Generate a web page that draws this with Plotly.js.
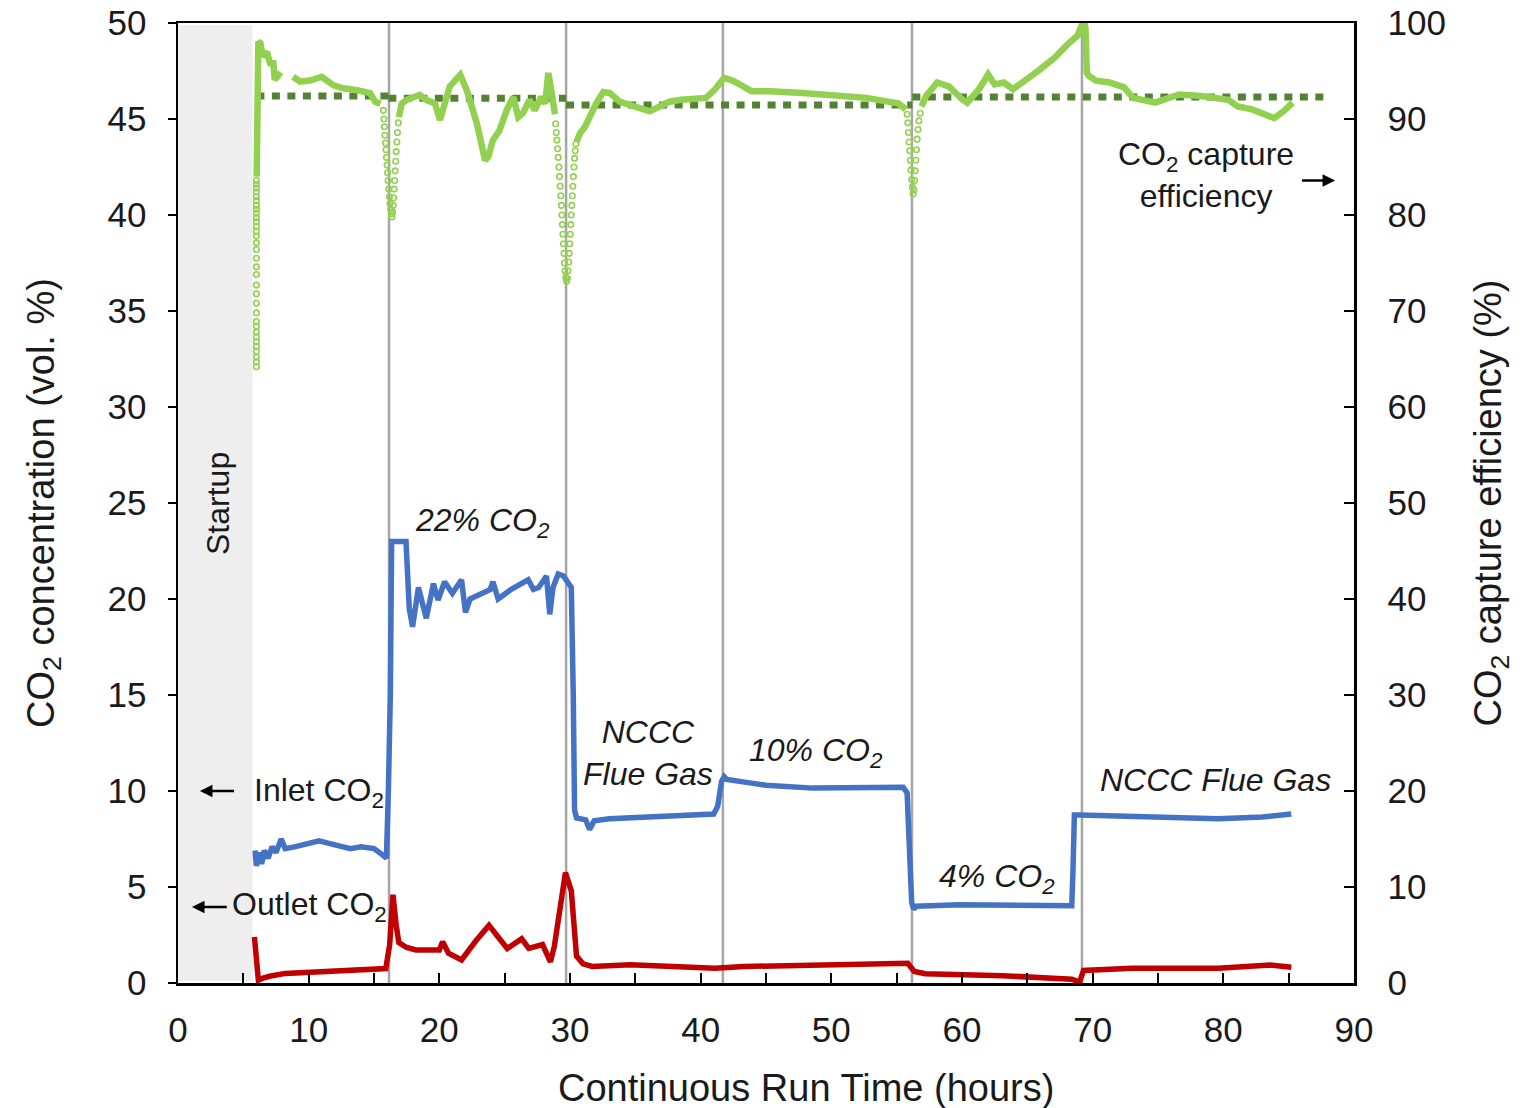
<!DOCTYPE html>
<html>
<head>
<meta charset="utf-8">
<script src="https://cdn.plot.ly/plotly-3.0.1.min.js"></script>
<style>html,body{margin:0;padding:0;background:#fff;}#chart{width:1532px;height:1108px;}</style>
</head>
<body>
<div id="chart"></div>
<script>
// ---------- DATA ----------
const inletHours = [5.9,6.0,6.2,6.4,6.6,6.9,7.2,7.5,7.9,8.2,9.0,10.0,10.8,11.7,12.5,13.2,14.0,15.0,15.6,15.95,16.1,16.25,16.35,17.45,17.7,17.95,18.4,19.0,19.55,19.9,20.4,21.0,21.7,22.0,22.35,23.0,23.9,24.1,24.5,25.5,26.8,27.2,27.6,28.2,28.45,28.7,29.1,29.5,30.1,30.25,30.35,30.5,31.2,31.5,31.85,33,35,38,41.0,41.3,41.6,41.8,42.0,43.5,45,48.6,53.2,55.5,55.8,56.0,56.15,56.3,56.5,59.8,64,68.4,68.5,68.6,69.05,73,76,79.6,83,85.2];
const inletCO2 = [6.9,6.1,6.8,6.2,6.9,6.5,7.1,6.8,7.5,7.0,7.1,7.3,7.4,7.25,7.1,7.0,7.1,7.0,6.7,6.5,10,15,23.0,23.0,19.5,18.55,20.6,19.0,20.8,19.95,20.9,20.3,21.0,19.3,20.0,20.2,20.5,20.9,20.0,20.5,21.0,20.5,20.6,21.2,19.2,20.6,21.3,21.2,20.6,15,9.0,8.6,8.5,8.0,8.45,8.55,8.6,8.7,8.8,9.2,10.5,10.75,10.6,10.45,10.3,10.15,10.2,10.2,9.9,7,4.2,3.85,4.0,4.08,4.05,4.02,6,8.75,8.75,8.65,8.6,8.55,8.65,8.8];

const outletHours = [5.85,6.0,6.15,6.5,7.0,8.2,11.2,15.3,15.9,16.2,16.45,16.7,16.9,17.5,18.2,20.0,20.25,20.7,21.7,22.8,23.8,24.5,25.2,26.3,26.85,27.9,28.5,28.8,29.3,29.65,30.1,30.5,31.0,31.7,34.6,38,41.1,43.3,46.6,53.2,55.85,56.35,57.2,63.1,68.4,69.0,69.3,73,79.6,83.6,85.2];
const outletCO2 = [2.4,1.0,0.15,0.25,0.35,0.5,0.6,0.68,0.75,2.0,4.6,3.0,2.1,1.85,1.72,1.72,2.15,1.55,1.2,2.2,3.0,2.4,1.8,2.3,1.8,2.0,1.1,1.9,4.0,5.75,4.8,1.4,1.0,0.86,0.95,0.85,0.77,0.86,0.91,0.98,1.03,0.6,0.48,0.38,0.2,0.05,0.65,0.77,0.77,0.94,0.82];

// capture efficiency, steady parts (null = break)
const effHours = [6.02,6.08,6.12,6.15,6.3,6.4,6.5,6.8,7.05,7.3,7.4,7.7,7.9,null,
  8.8,9.35,10.1,11.0,11.9,12.65,13.7,14.7,15.1,15.5,null,
  16.9,17.12,17.5,18.0,18.5,19.0,19.67,20.05,20.36,20.8,21.6,22.1,22.86,23.5,23.75,24.1,24.6,25.15,25.66,26.04,26.4,26.9,27.3,27.8,28.1,28.34,28.6,28.85,null,
  30.5,30.76,31.15,31.5,32.0,32.55,33.06,33.8,35.1,36.1,37.6,38.5,40.4,41.1,41.8,42.5,43.9,45.3,47.8,50.2,52.7,55.15,55.7,null,
  56.9,57.25,58.1,59.0,60.05,60.4,61.3,62.0,62.5,63.2,63.9,64.6,65.3,66.0,67.1,68.1,68.85,69.2,69.3,69.45,69.55,69.7,70.25,71.3,72.4,73.1,74.8,76.6,78.3,80.4,81.1,82.2,82.9,83.9,84.6,85.3];
const effPct = [84.0,92,97.5,98.05,97.9,97.0,96.5,97.0,95.8,95.8,94.1,94.6,94.4,null,
  94.4,93.9,94.0,94.4,93.5,93.2,93.0,92.7,91.8,91.6,null,
  90.2,91.6,92.0,92.2,92.5,92.0,91.6,89.9,91.3,93.4,94.6,93.0,89.6,85.7,86.1,87.8,88.8,90.9,92.3,90.2,90.6,92.0,90.9,92.3,91.6,94.8,92.7,90.5,null,
  87.6,88.5,89.2,90.2,91.6,92.8,92.7,91.8,91.3,90.8,91.8,92.0,92.2,93.1,94.3,93.96,92.9,92.9,92.7,92.4,92.2,91.6,91.0,null,
  91.3,92.4,93.8,93.4,92.0,91.7,93.1,94.65,93.6,93.8,93.1,93.9,94.5,95.2,96.4,97.8,98.7,99.9,100.2,99.5,94.8,94.5,94.0,93.8,93.3,92.2,91.7,92.55,92.4,92.0,91.3,91.0,90.6,90.1,90.8,91.7];

// capture efficiency, transient points (drawn as open circles)
const effTransientHours = [
  6.0,6.0,6.0,6.0,6.0,6.0,6.0,6.0,6.0,6.0,6.0,6.0,6.0,6.0,6.0,6.0,6.0,6.0,6.0,6.0,6.0,6.0,6.0,6.0,6.0,6.0,6.0,6.0,6.0,6.0,6.0,6.0,6.0,
  15.72,15.76,15.8,15.84,15.88,15.92,15.96,16.0,16.04,16.08,16.13,16.18,16.23,16.28,16.33,16.38,16.43,16.47,16.5,16.54,16.58,16.62,16.66,16.7,16.75,16.8,16.86,
  28.9,28.95,29.0,29.05,29.1,29.15,29.2,29.25,29.3,29.34,29.38,29.42,29.46,29.5,29.54,29.58,29.62,29.68,29.74,29.8,29.85,29.9,29.94,29.98,30.02,30.06,30.1,30.14,30.18,30.22,30.26,30.3,30.35,30.4,30.45,
  55.8,55.85,55.9,55.95,56.0,56.05,56.1,56.15,56.2,56.26,56.32,56.37,56.42,56.47,56.52,56.57,56.63,56.7,56.8];
const effTransientPct = [
  83.6,83.2,82.8,82.4,81.9,81.5,81.0,80.6,80.2,79.7,79.3,78.8,78.3,77.8,77.1,76.4,75.5,74.6,73.8,72.7,71.8,70.8,69.8,68.9,68.4,67.8,67.3,66.8,66.3,65.8,65.2,64.7,64.2,
  90.9,90.0,89.2,88.3,87.5,86.8,86.0,85.2,84.4,83.6,82.7,81.9,81.2,80.6,80.1,79.8,80.3,81.0,81.8,82.7,83.6,84.6,85.6,86.6,87.6,88.6,89.6,
  89.5,88.6,87.8,86.9,86.0,85.0,84.0,83.0,82.0,81.0,80.0,79.0,78.0,77.0,76.0,75.0,74.2,73.5,73.1,73.4,74.2,75.1,76.0,77.0,78.0,79.0,80.0,81.0,82.0,83.0,84.0,85.0,85.9,86.7,87.4,
  90.5,89.6,88.6,87.6,86.7,85.7,84.7,83.7,82.9,82.2,82.6,83.6,84.6,85.7,86.8,87.9,88.9,89.8,90.6];

// average capture efficiency per test phase (dotted)
const targetHours = [6.0,16.1,null,16.1,29.7,null,29.7,56.2,null,56.2,87.9];
const targetPct = [92.4,92.4,null,92.15,92.15,null,91.45,91.45,null,92.3,92.3];

const phaseChangeHours = [16.15,29.7,41.7,56.17,69.18];
const startupEndHour = 5.7;

// ---------- CHART ----------
const FONT = 'Liberation Sans, Arial, sans-serif';
const TXT = '#1a1a1a';

const traces = [
  {x: inletHours, y: inletCO2, mode: 'lines', line: {color: '#4472C4', width: 5.5}, yaxis: 'y', hoverinfo: 'skip'},
  {x: outletHours, y: outletCO2, mode: 'lines', line: {color: '#C00000', width: 5.5}, yaxis: 'y', hoverinfo: 'skip'},
  {x: targetHours, y: targetPct, mode: 'lines', line: {color: '#548235', width: 7, dash: '8px,7.5px'}, yaxis: 'y2', connectgaps: false, hoverinfo: 'skip'},
  {x: effHours, y: effPct, mode: 'lines', line: {color: '#92D050', width: 6.5}, yaxis: 'y2', connectgaps: false, hoverinfo: 'skip'},
  {x: effTransientHours, y: effTransientPct, mode: 'markers', marker: {symbol: 'circle-open', color: '#92D050', size: 5.5, line: {width: 1.6, color: '#92D050'}}, yaxis: 'y2', hoverinfo: 'skip'}
];

const shapes = [
  {type: 'rect', xref: 'x', yref: 'paper', x0: 0.05, x1: startupEndHour, y0: 0.002, y1: 0.998, fillcolor: '#eeeeee', line: {width: 0}, layer: 'below'}
];
phaseChangeHours.forEach(h => shapes.push({type: 'line', xref: 'x', yref: 'paper', x0: h, x1: h, y0: 0, y1: 1, line: {color: '#a6a6a6', width: 2.5}, layer: 'below'}));

const italic = {family: FONT, size: 32, color: TXT, style: 'italic'};
const plain = {family: FONT, size: 32, color: TXT};
const titleFont = {family: FONT, size: 38, color: TXT};
const annotations = [
  {x: 3.06, y: 25.0, xref: 'x', yref: 'y', text: 'Startup', textangle: -90, showarrow: false, font: plain},
  {x: 23.3, y: 24.0, xref: 'x', yref: 'y', text: '22% CO<sub>2</sub>', showarrow: false, font: italic},
  {x: 36.0, y: 12.0, xref: 'x', yref: 'y', text: 'NCCC<br>Flue Gas', showarrow: false, font: italic},
  {x: 48.8, y: 12.0, xref: 'x', yref: 'y', text: '10% CO<sub>2</sub>', showarrow: false, font: italic},
  {x: 62.7, y: 5.45, xref: 'x', yref: 'y', text: '4% CO<sub>2</sub>', showarrow: false, font: italic},
  {x: 79.4, y: 10.55, xref: 'x', yref: 'y', text: 'NCCC Flue Gas', showarrow: false, font: italic},
  {x: 5.66, y: 9.9, xref: 'x', yref: 'y', xanchor: 'left', text: 'Inlet CO<sub>2</sub>', showarrow: false, font: plain},
  {x: 3.98, y: 3.96, xref: 'x', yref: 'y', xanchor: 'left', text: 'Outlet CO<sub>2</sub>', showarrow: false, font: plain},
  {x: 78.7, y: 84.2, xref: 'x', yref: 'y2', text: 'CO<sub>2</sub> capture<br>efficiency', showarrow: false, font: plain},
  // x-axis title (offset right of centre as in the original)
  {x: 0.534, y: -0.109, xref: 'paper', yref: 'paper', text: 'Continuous Run Time (hours)', showarrow: false, font: titleFont, xanchor: 'center', yanchor: 'middle'},
  // arrows
  {x: 1.68, y: 10, xref: 'x', yref: 'y', ax: 4.4, ay: 10, axref: 'x', ayref: 'y', text: '', showarrow: true, arrowhead: 2, arrowsize: 1, arrowwidth: 2.5, arrowcolor: '#000'},
  {x: 1.07, y: 3.96, xref: 'x', yref: 'y', ax: 3.85, ay: 3.96, axref: 'x', ayref: 'y', text: '', showarrow: true, arrowhead: 2, arrowsize: 1, arrowwidth: 2.5, arrowcolor: '#000'},
  {x: 88.55, y: 83.6, xref: 'x', yref: 'y2', ax: 85.9, ay: 83.6, axref: 'x', ayref: 'y2', text: '', showarrow: true, arrowhead: 2, arrowsize: 1, arrowwidth: 2.5, arrowcolor: '#000'}
];

const tickFont = {family: FONT, size: 35, color: TXT};

const layout = {
  width: 1532, height: 1108,
  margin: {l: 178, r: 178, t: 23, b: 125},
  paper_bgcolor: '#fff', plot_bgcolor: '#fff',
  showlegend: false,
  font: {family: FONT, color: TXT},
  xaxis: {
    range: [0, 90], dtick: 10, tick0: 0,
    ticks: 'inside', ticklen: 10, tickwidth: 2, tickcolor: '#000',
    minor: {dtick: 5, ticks: 'inside', ticklen: 10, tickwidth: 2, tickcolor: '#000', showgrid: false},
    showline: true, linewidth: 2.5, linecolor: '#000', mirror: true,
    showgrid: false, zeroline: false,
    tickfont: tickFont, ticklabelstandoff: 14
  },
  yaxis: {
    range: [0, 50], dtick: 5, tick0: 0,
    ticks: 'outside', ticklen: 8, tickwidth: 2, tickcolor: '#000',
    showline: true, linewidth: 2.5, linecolor: '#000',
    showgrid: false, zeroline: false,
    tickfont: tickFont, ticklabelstandoff: 14,
    title: {text: 'CO<sub>2</sub> concentration (vol. %)', font: titleFont, standoff: 42}
  },
  yaxis2: {
    range: [0, 100], dtick: 10, tick0: 0, overlaying: 'y', side: 'right',
    ticks: 'inside', ticklen: 10, tickwidth: 2, tickcolor: '#000',
    showline: true, linewidth: 2.5, linecolor: '#000',
    showgrid: false, zeroline: false,
    tickfont: tickFont, ticklabelstandoff: 24,
    title: {text: 'CO<sub>2</sub> capture efficiency (%)', font: titleFont, standoff: 30}
  },
  shapes: shapes,
  annotations: annotations
};

Plotly.newPlot('chart', traces, layout, {staticPlot: true, displayModeBar: false});
</script>
</body>
</html>
